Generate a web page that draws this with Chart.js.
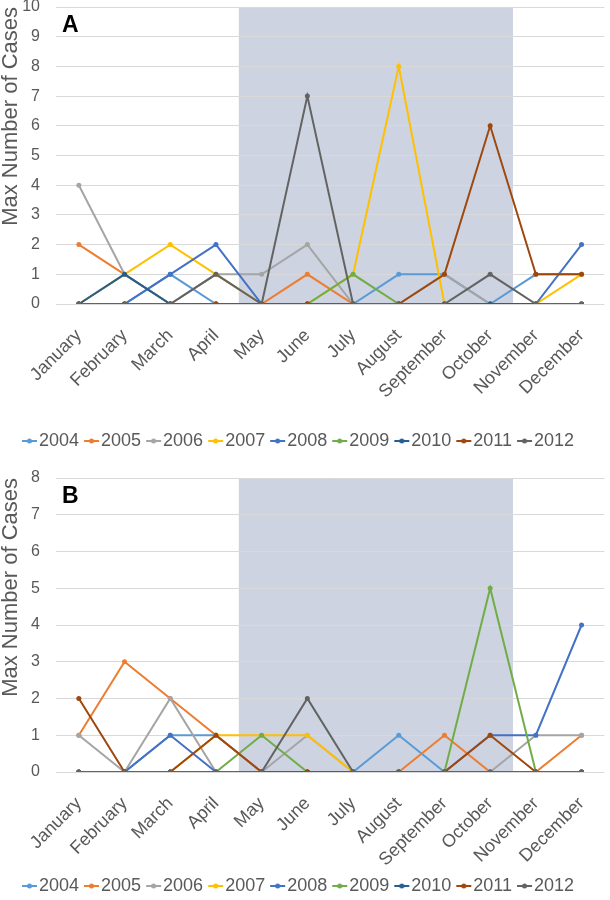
<!DOCTYPE html>
<html>
<head>
<meta charset="utf-8">
<script src="https://cdn.jsdelivr.net/npm/chart.js@4.4.1/dist/chart.umd.min.js"></script>
<style>
    html, body { margin: 0; padding: 0; background: #ffffff; overflow: hidden; }
    #boxA { position: absolute; left: 0; top: 0; width: 610px; height: 465px; }
    #boxB { position: absolute; left: 0; top: 440px; width: 610px; height: 470px; }
</style>
</head>
<body>
<div id="boxA"><canvas id="chartA"></canvas></div>
<div id="boxB"><canvas id="chartB"></canvas></div>
<script>
"use strict";

/********************************************************************
 * Data
 ********************************************************************/
const months = ["January", "February", "March", "April", "May", "June",
    "July", "August", "September", "October", "November", "December"];

const years = ["2004", "2005", "2006", "2007", "2008", "2009", "2010", "2011", "2012"];

const colors = ["#5B9BD5", "#ED7D31", "#A5A5A5", "#FFC000", "#4472C4",
    "#70AD47", "#255E91", "#9E480E", "#636363"];

const shadeFrom = "May";
const shadeTo = "October";

// Panel A
const yMaxA = 10;
const a2004 = [0, 0, 1, 0, 0, 0, 0, 1, 1, 0, 1, 1];
const a2005 = [2, 1, 0, 0, 0, 1, 0, 0, 0, 0, 0, 0];
const a2006 = [4, 1, 0, 1, 1, 2, 0, 0, 1, 0, 0, 0];
const a2007 = [0, 1, 2, 1, 0, 0, 1, 8, 0, 0, 0, 1];
const a2008 = [0, 0, 1, 2, 0, 0, 0, 0, 0, 0, 0, 2];
const a2009 = [0, 0, 0, 0, 0, 0, 1, 0, 0, 0, 0, 0];
const a2010 = [0, 1, 0, 0, 0, 0, 0, 0, 0, 0, 0, 0];
const a2011 = [0, 0, 0, 0, 0, 0, 0, 0, 1, 6, 1, 1];
const a2012 = [0, 0, 0, 1, 0, 7, 0, 0, 0, 1, 0, 0];

// Panel B
const yMaxB = 8;
const b2004 = [0, 0, 1, 1, 0, 0, 0, 1, 0, 0, 0, 0];
const b2005 = [1, 3, 2, 1, 0, 0, 0, 0, 1, 0, 0, 1];
const b2006 = [1, 0, 2, 0, 0, 1, 0, 0, 0, 0, 1, 1];
const b2007 = [0, 0, 0, 1, 1, 1, 0, 0, 0, 0, 0, 0];
const b2008 = [0, 0, 1, 0, 0, 0, 0, 0, 0, 1, 1, 4];
const b2009 = [0, 0, 0, 0, 1, 0, 0, 0, 0, 5, 0, 0];
const b2010 = [0, 0, 0, 0, 0, 0, 0, 0, 0, 0, 0, 0];
const b2011 = [2, 0, 0, 1, 0, 0, 0, 0, 0, 1, 0, 0];
const b2012 = [0, 0, 0, 0, 0, 2, 0, 0, 0, 0, 0, 0];

const FONT = "'Liberation Sans', Arial, sans-serif";
const TEXT = "#595959";

/********************************************************************
 * Legend markers (line with a dot, Excel style)
 ********************************************************************/
function makeMarker(color) {
    const c = document.createElement("canvas");
    c.width = 21;
    c.height = 8;
    const ctx = c.getContext("2d");
    ctx.strokeStyle = color;
    ctx.lineWidth = 2;
    ctx.beginPath();
    ctx.moveTo(5, 4);
    ctx.lineTo(20, 4);
    ctx.stroke();
    ctx.fillStyle = color;
    ctx.beginPath();
    ctx.arc(12.5, 4, 2.5, 0, Math.PI * 2);
    ctx.fill();
    return c;
}

const markers = colors.map(makeMarker);

/********************************************************************
 * Plugins
 ********************************************************************/
const shadePlugin = {
    id: "shade",
    beforeDraw(chart) {
        const x = chart.scales.x;
        const y = chart.scales.y;
        const ctx = chart.ctx;
        const half = (x.getPixelForValue(1) - x.getPixelForValue(0)) / 2;
        const left = x.getPixelForValue(months.indexOf(shadeFrom)) - half;
        const right = x.getPixelForValue(months.indexOf(shadeTo)) + half;
        const top = y.getPixelForValue(y.max);
        const bottom = y.getPixelForValue(0);
        ctx.save();
        ctx.fillStyle = "#CDD3E0";
        ctx.fillRect(left, top, right - left, bottom - top);
        ctx.restore();
    }
};

const panelLabelPlugin = {
    id: "panelLabel",
    afterDraw(chart, args, opts) {
        const ctx = chart.ctx;
        ctx.save();
        ctx.font = "bold 23px " + FONT;
        ctx.fillStyle = "#000000";
        ctx.textBaseline = "alphabetic";
        ctx.fillText(opts.text, chart.chartArea.left + 6, chart.chartArea.top + 25);
        ctx.restore();
    }
};

const legendShiftPlugin = {
    id: "legendShift",
    afterLayout(chart, args, opts) {
        if (chart.legend) chart.legend.left = opts.left;
    }
};

/********************************************************************
 * Chart builder
 ********************************************************************/
function createChart(canvasId, series, yMax, label, xHeight, pad) {

    const canvas = document.getElementById(canvasId);

    const datasets = series.map((values, i) => ({
        label: years[i],
        data: values,
        borderColor: colors[i],
        backgroundColor: colors[i],
        pointBackgroundColor: colors[i],
        pointBorderWidth: 0,
        pointRadius: 2.5,
        borderWidth: 2,
        tension: 0,
        order: years.length - 1 - i
    }));

    return new Chart(canvas, {
        type: "line",
        data: { labels: months, datasets: datasets },
        plugins: [shadePlugin, panelLabelPlugin, legendShiftPlugin],
        options: {
            responsive: true,
            maintainAspectRatio: false,
            animation: false,
            layout: { padding: { left: 0, right: 1, top: pad.top, bottom: pad.bottom } },
            plugins: {
                panelLabel: { text: label },
                legendShift: { left: 17 },
                tooltip: { enabled: false },
                legend: {
                    position: "bottom",
                    align: "start",
                    labels: {
                        usePointStyle: true,
                        boxWidth: 5,
                        boxHeight: 8,
                        padding: 8,
                        color: TEXT,
                        font: { family: FONT, size: 18 },
                        generateLabels(chart) {
                            return chart.data.datasets.map((ds, i) => ({
                                text: ds.label,
                                fillStyle: ds.borderColor,
                                strokeStyle: ds.borderColor,
                                lineWidth: 0,
                                pointStyle: markers[i],
                                fontColor: TEXT,
                                hidden: false,
                                datasetIndex: i
                            }));
                        }
                    }
                }
            },
            scales: {
                x: {
                    offset: true,
                    grid: { display: false },
                    border: { display: false },
                    ticks: {
                        minRotation: 45,
                        maxRotation: 45,
                        padding: 13,
                        color: TEXT,
                        font: { family: FONT, size: 18 }
                    },
                    afterFit(scale) { scale.height = xHeight; }
                },
                y: {
                    min: 0,
                    max: yMax,
                    grid: { color: "#D9D9D9", lineWidth: 1, drawTicks: false },
                    border: { display: false },
                    ticks: {
                        stepSize: 1,
                        padding: 16,
                        color: TEXT,
                        font: { family: FONT, size: 16, lineHeight: 1 }
                    },
                    title: {
                        display: true,
                        text: "Max Number of Cases",
                        align: "end",
                        color: TEXT,
                        padding: { top: 0, bottom: 4 },
                        font: { family: FONT, size: 22, lineHeight: 1 }
                    },
                    afterFit(scale) {
                        scale.width = 56;
                        scale.paddingTop = 7;
                        scale.paddingBottom = 7;
                    }
                }
            }
        }
    });
}

/********************************************************************
 * Init
 ********************************************************************/
createChart("chartA",
    [a2004, a2005, a2006, a2007, a2008, a2009, a2010, a2011, a2012],
    yMaxA, "A", 120, { top: 0, bottom: 5 });

createChart("chartB",
    [b2004, b2005, b2006, b2007, b2008, b2009, b2010, b2011, b2012],
    yMaxB, "B", 97, { top: 38, bottom: 5 });
</script>
</body>
</html>
